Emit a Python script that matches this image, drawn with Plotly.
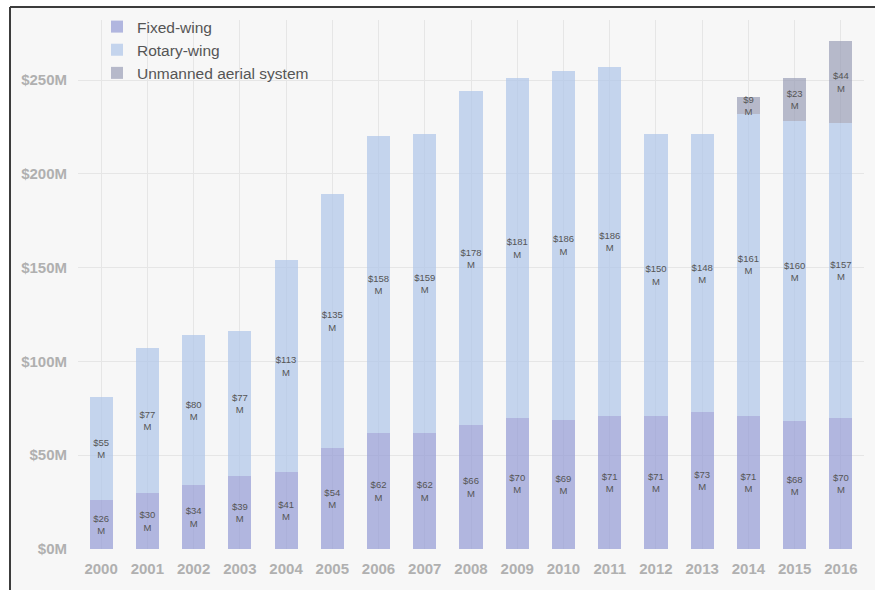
import plotly.graph_objects as go

years = [str(y) for y in range(2000, 2017)]
fixed_wing = [26, 30, 34, 39, 41, 54, 62, 62, 66, 70, 69, 71, 71, 73, 71, 68, 70]
rotary_wing = [55, 77, 80, 77, 113, 135, 158, 159, 178, 181, 186, 186, 150, 148, 161, 160, 157]
uas = [None] * 14 + [9, 23, 44]
tick_vals = [0, 50, 100, 150, 200, 250]
tick_text = ["$0M", "$50M", "$100M", "$150M", "$200M", "$250M"]

series = [
    ("Fixed-wing", fixed_wing, "rgba(150,157,214,0.72)"),
    ("Rotary-wing", rotary_wing, "rgba(176,198,233,0.72)"),
    ("Unmanned aerial system", uas, "rgba(150,155,180,0.68)"),
]

fig = go.Figure()
for name, vals, col in series:
    labels = [f"${v}<br>M" if v is not None else "" for v in vals]
    fig.add_trace(go.Bar(
        x=years, y=vals, name=name, text=labels,
        marker=dict(color=col, line=dict(width=0)),
        textposition="inside", insidetextanchor="middle",
        textangle=0, constraintext="none",
        textfont=dict(size=9.5, color="#555555", family="Liberation Sans"),
        hoverinfo="x+y+name",
    ))

L, R, T, B = 78, 11, 19, 40.5
W, H = 875, 590
pw, ph = W - L - R, H - T - B

def px(x):
    return (x - L) / pw

def py(y):
    return (H - B - y) / ph

fig.update_layout(
    barmode="stack", bargap=0.5,
    width=W, height=H,
    margin=dict(l=L, r=R, t=T, b=B),
    paper_bgcolor="white", plot_bgcolor="rgba(0,0,0,0)",
    font=dict(family="Liberation Sans", color="#555555"),
    uniformtext=dict(minsize=9, mode="show"),
    legend=dict(x=px(97), y=py(10), xanchor="left", yanchor="top",
                bgcolor="rgba(0,0,0,0)", font=dict(size=15.5, color="#555555"),
                traceorder="normal", tracegroupgap=0),
    showlegend=True,
    shapes=[
        dict(type="rect", xref="paper", yref="paper", x0=px(10), x1=px(900), y0=py(6), y1=py(620),
             fillcolor="#f7f7f7", line=dict(width=0), layer="below"),
        dict(type="line", xref="paper", yref="paper", x0=px(10), x1=px(900), y0=py(6), y1=py(6),
             line=dict(color="#3c3c3c", width=2), layer="above"),
        dict(type="line", xref="paper", yref="paper", x0=px(10), x1=px(10), y0=py(6), y1=py(620),
             line=dict(color="#3c3c3c", width=2), layer="above"),
    ],
)
fig.update_xaxes(
    showgrid=True, gridcolor="#e6e6e6", gridwidth=1,
    tickfont=dict(size=15, color="#b0b0b0", family="Liberation Sans", weight="bold"),
    ticklabelstandoff=9, showline=False, zeroline=False,
)
fig.update_yaxes(
    range=[0, 282], tickvals=tick_vals, ticktext=tick_text,
    showgrid=True, gridcolor="#e6e6e6", gridwidth=1, zeroline=False,
    tickfont=dict(size=15, color="#b0b0b0", family="Liberation Sans", weight="bold"),
    ticklabelstandoff=10, showline=False,
)

fig.write_html("out.html", config={"displayModeBar": False},
               post_script="document.body.style.margin='0';")
